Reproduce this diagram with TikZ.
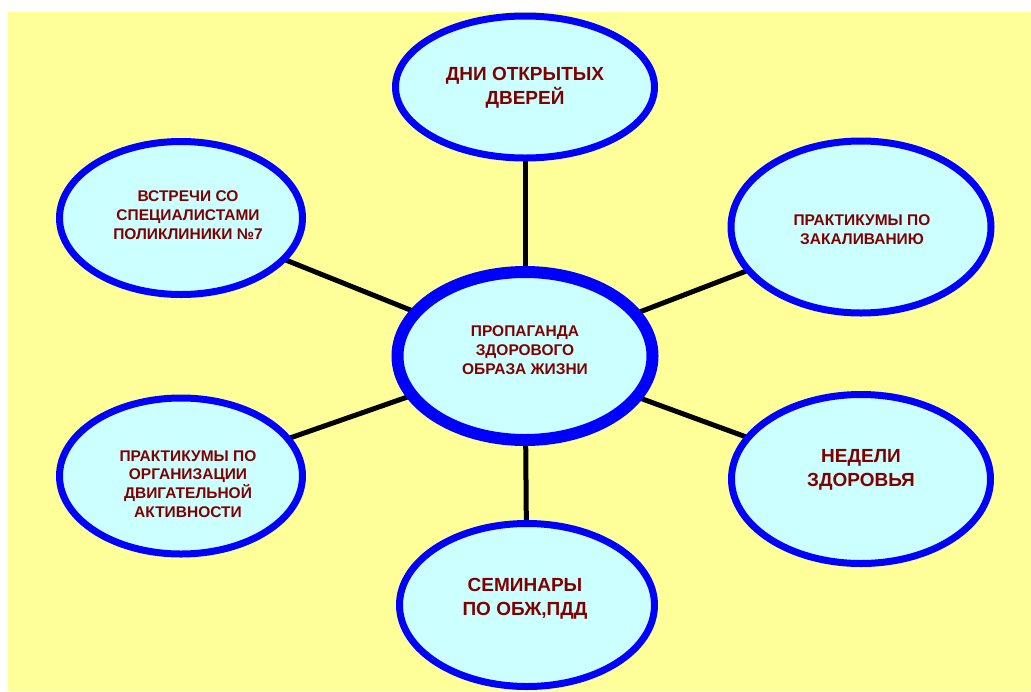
\documentclass[tikz,border=0pt]{standalone}
\usepackage{fontspec}
\setmainfont{Liberation Sans}
\usetikzlibrary{shapes.geometric}
\definecolor{bgyellow}{HTML}{FFFF99}
\definecolor{ellfill}{HTML}{CCFFFF}
\definecolor{ellblue}{HTML}{0000FF}
\definecolor{txtred}{HTML}{800000}
\tikzset{
  bubble/.style={ellipse, draw=ellblue, fill=ellfill, line width=7pt, inner sep=0pt},
  hub/.style={bubble, line width=12pt},
  smalltxt/.style={text=txtred, align=center, inner sep=0pt, font=\bfseries\fontsize{15.5}{18.8}\selectfont},
  bigtxt/.style={text=txtred, align=center, inner sep=0pt, font=\bfseries\fontsize{19}{23.5}\selectfont},
  spoke/.style={line width=5pt, draw=black}
}
\begin{document}
\begin{tikzpicture}[x=1pt,y=-1pt]
\useasboundingbox (0,0) rectangle (1031,691);
\fill[white] (0,0) rectangle (1031,691);
\fill[bgyellow] (8,12) rectangle (1031,691);
% positions
\coordinate (pc) at (525,356);
\coordinate (pt) at (525,87);
\coordinate (ptl) at (181,218);
\coordinate (ptr) at (861,227);
\coordinate (pbl) at (181,476);
\coordinate (pbr) at (861,479);
\coordinate (pb) at (527,605);
% spokes
\draw[spoke] (pc) -- (pt);
\draw[spoke] (pc) -- (ptl);
\draw[spoke] (pc) -- (ptr);
\draw[spoke] (pc) -- (pbl);
\draw[spoke] (pc) -- (pbr);
\draw[spoke] (pc) -- (pb);
% ellipses
\node[bubble, minimum width=259pt, minimum height=142pt] (t) at (pt) {};
\node[bubble, minimum width=243pt, minimum height=153pt] (tl) at (ptl) {};
\node[bubble, minimum width=260pt, minimum height=172pt] (tr) at (ptr) {};
\node[bubble, minimum width=243pt, minimum height=156pt] (bl) at (pbl) {};
\node[bubble, minimum width=259pt, minimum height=169pt] (br) at (pbr) {};
\node[bubble, minimum width=255pt, minimum height=163pt] (b) at (pb) {};
\node[hub, minimum width=255pt, minimum height=168pt] (c) at (pc) {};
% texts
\node[bigtxt] (tt) at (525,88) {ДНИ ОТКРЫТЫХ\\ДВЕРЕЙ};
\node[smalltxt] (ttl) at (188,215) {ВСТРЕЧИ СО\\СПЕЦИАЛИСТАМИ\\ПОЛИКЛИНИКИ №7};
\node[smalltxt] (ttr) at (862,230) {ПРАКТИКУМЫ ПО\\ЗАКАЛИВАНИЮ};
\node[smalltxt] (tc) at (525,350) {ПРОПАГАНДА\\ЗДОРОВОГО\\ОБРАЗА ЖИЗНИ};
\node[smalltxt] (tbl) at (188,484) {ПРАКТИКУМЫ ПО\\ОРГАНИЗАЦИИ\\ДВИГАТЕЛЬНОЙ\\АКТИВНОСТИ};
\node[bigtxt] (tbr) at (861,470) {НЕДЕЛИ\\ЗДОРОВЬЯ};
\node[bigtxt] (tb) at (525,599) {СЕМИНАРЫ\\ПО ОБЖ,ПДД};
\end{tikzpicture}
\end{document}
